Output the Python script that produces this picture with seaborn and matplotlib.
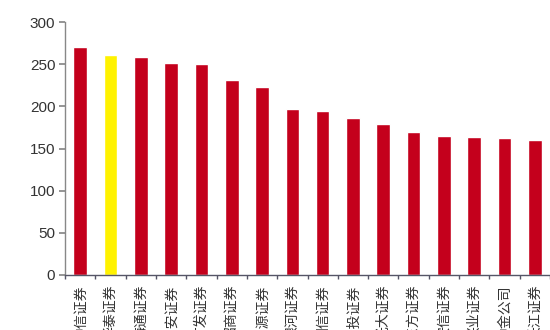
import matplotlib
matplotlib.use("Agg")
import matplotlib.pyplot as plt
import seaborn as sns
import pandas as pd

categories = ["中信证券", "华泰证券", "海通证券", "国泰君安证券", "广发证券", "招商证券",
              "申万宏源证券", "银河证券", "国信证券", "中信建投证券", "光大证券", "东方证券",
              "安信证券", "兴业证券", "中金公司", "长江证券"]
values = [270, 261, 259, 251, 250, 231, 223, 197, 195, 186, 179, 170, 165, 164, 163, 160]
highlight = "华泰证券"
yticks = [0, 50, 100, 150, 200, 250, 300]

sns.set_theme(style="white")
plt.rcParams['font.family'] = ['Liberation Sans', 'Noto Sans CJK SC', 'DejaVu Sans']

df = pd.DataFrame({"name": categories, "value": values})
palette = {c: ("#FFF200" if c == highlight else "#C4001C") for c in categories}

fig = plt.figure(figsize=(5.5, 3.3), dpi=100)
ax = fig.add_axes([65/550, 55/330, 1 - 65/550, 253/330])
sns.barplot(data=df, x="name", y="value", hue="name", palette=palette,
            width=0.45, legend=False, ax=ax, saturation=1)

ax.set_ylim(0, 300)
ax.set_yticks(yticks)
ax.set_xlim(-0.42, 15.2)
ax.set_xlabel("")
ax.set_ylabel("")
for s in ["top", "right"]:
    ax.spines[s].set_visible(False)
ax.spines["left"].set_color("#888888")
ax.spines["left"].set_linewidth(1.0)
ax.spines["bottom"].set_color("#555566")
ax.spines["bottom"].set_linewidth(1.0)
ax.tick_params(axis="y", left=True, length=4, color="#888888", labelsize=11,
               labelcolor="#333333", pad=3)
ax.tick_params(axis="x", bottom=False, labelsize=10, labelcolor="#333333", pad=1)
ax.set_xticks(range(len(categories)))
ax.set_xticklabels(categories, rotation=90, va="top", fontweight="medium")
ax.set_xticks([i + 0.5 for i in range(-1, len(categories))], minor=True)
ax.tick_params(axis="x", which="minor", bottom=True, length=3, color="#555566")

fig.savefig("out.png", dpi=100)
